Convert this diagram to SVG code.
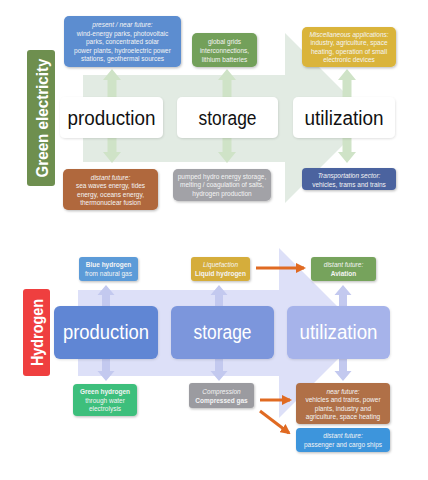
<svg xmlns="http://www.w3.org/2000/svg" width="428" height="480" viewBox="0 0 428 480">
<defs>
<filter id="sh" x="-10%" y="-10%" width="130%" height="140%"><feDropShadow dx="0.8" dy="1.2" stdDeviation="0.9" flood-color="#000" flood-opacity="0.25"/></filter>
<filter id="shl" x="-10%" y="-10%" width="130%" height="140%"><feDropShadow dx="0.5" dy="1" stdDeviation="1" flood-color="#000" flood-opacity="0.12"/></filter>
<marker id="oa" viewBox="0 0 10 10" refX="8" refY="5" markerWidth="3.4" markerHeight="3.4" orient="auto"><path d="M0,0 L10,5 L0,10 Z" fill="#e06a22"/></marker>
<style>
.s{font-family:"Liberation Sans",Arial,sans-serif;font-size:6.5px;fill:#f4f4f4;text-anchor:middle}
.i{font-style:italic}
.b{font-weight:bold}
.big{font-family:"Liberation Sans",Arial,sans-serif;font-size:20px;text-anchor:middle}
.lbl{font-family:"Liberation Sans",Arial,sans-serif;font-weight:bold;fill:#fff;text-anchor:middle}
.ga{fill:#cfe3c7}
.ha{fill:#c3c9ef}
.oc{stroke:#e06a22;stroke-width:3;fill:none;marker-end:url(#oa)}
</style>
</defs>
<rect width="428" height="480" fill="#fff"/>

<g id="backgrounds">
<polygon points="83,75 285,75 285,33 370,118 285,203 285,162 83,162" fill="#e2ebe3"/>
<polygon points="78,290 279,290 279,248 364,333 279,418 279,376 78,376" fill="#dde0f8"/>
</g>

<g id="connectors">
<!-- green electricity vertical arrows -->
<path class="ga" d="M107.5,97 V80 H103 L112,69 L121,80 H116.5 V97 Z"/>
<path class="ga" d="M107.5,138 V152 H103 L112,163 L121,152 H116.5 V138 Z"/>
<path class="ga" d="M222.5,97 V80 H218 L227,69 L236,80 H231.5 V97 Z"/>
<path class="ga" d="M222.5,138 V152 H218 L227,163 L236,152 H231.5 V138 Z"/>
<path class="ga" d="M342.5,97 V80 H338 L347,69 L356,80 H351.5 V97 Z"/>
<path class="ga" d="M342.5,138 V152 H338 L347,163 L356,152 H351.5 V138 Z"/>
<!-- hydrogen vertical arrows -->
<path class="ha" d="M102,306 V295 H97.5 L106,285 L114.5,295 H110 V306 Z"/>
<path class="ha" d="M102,359 V371 H97.5 L106,381 L114.5,371 H110 V359 Z"/>
<path class="ha" d="M215,306 V295 H210.5 L219,285 L227.5,295 H223 V306 Z"/>
<path class="ha" d="M215,359 V371 H210.5 L219,381 L227.5,371 H223 V359 Z"/>
<path class="ha" d="M339,306 V295 H334.5 L343,285 L351.5,295 H347 V306 Z"/>
<path class="ha" d="M339,359 V371 H334.5 L343,381 L351.5,371 H347 V359 Z"/>
<!-- orange arrows -->
<line class="oc" x1="256" y1="268" x2="304" y2="268"/>
<line class="oc" x1="260" y1="400" x2="290" y2="400"/>
<line class="oc" x1="260" y1="411" x2="289" y2="433"/>
</g>

<g id="label-green-electricity">
<rect x="27" y="50" width="28" height="136" rx="3" fill="#6e8f4f"/>
<text class="lbl" font-size="17" transform="translate(47.5,118) rotate(-90)" textLength="119" lengthAdjust="spacingAndGlyphs">Green electricity</text>
</g>

<g id="ge-production">
<rect x="60" y="97" width="103" height="41" rx="5" fill="#fff" filter="url(#shl)"/>
<text class="big" x="111.5" y="125" fill="#111" textLength="88" lengthAdjust="spacingAndGlyphs">production</text>
</g>
<g id="ge-storage">
<rect x="177" y="97" width="101" height="41" rx="5" fill="#fff" filter="url(#shl)"/>
<text class="big" x="227.5" y="125" fill="#111" textLength="58" lengthAdjust="spacingAndGlyphs">storage</text>
</g>
<g id="ge-utilization">
<rect x="293" y="97" width="102" height="41" rx="5" fill="#fff" filter="url(#shl)"/>
<text class="big" x="344" y="125" fill="#111" textLength="79" lengthAdjust="spacingAndGlyphs">utilization</text>
</g>

<g id="ge-prod-present">
<rect x="64" y="16" width="117" height="51" rx="5" fill="#5b8dd0" filter="url(#sh)"/>
<text class="s i" x="122.5" y="27">present / near future:</text>
<text class="s" x="122.5" y="35.5">wind-energy parks, photovoltaic</text>
<text class="s" x="122.5" y="44">parks, concentrated solar</text>
<text class="s" x="122.5" y="52.5">power plants, hydroelectric power</text>
<text class="s" x="122.5" y="61">stations, geothermal sources</text>
</g>
<g id="ge-storage-top">
<rect x="192" y="33" width="65" height="34" rx="5" fill="#73a05a" filter="url(#sh)"/>
<text class="s" x="224.5" y="44">global grids</text>
<text class="s" x="224.5" y="52.5">interconnections,</text>
<text class="s" x="224.5" y="61.5" font-size="7.5">lithium batteries</text>
</g>
<g id="ge-util-misc">
<rect x="302" y="27" width="94" height="40" rx="5" fill="#dab43b" filter="url(#sh)"/>
<text class="s i" x="349" y="36.5">Miscellaneous applications:</text>
<text class="s" x="349" y="45">industry, agriculture, space</text>
<text class="s" x="349" y="53.5">heating, operation of small</text>
<text class="s" x="349" y="62">electronic devices</text>
</g>
<g id="ge-prod-distant">
<rect x="63" y="169" width="95" height="41" rx="5" fill="#b0683d" filter="url(#sh)"/>
<text class="s i" x="110.5" y="179.5">distant future:</text>
<text class="s" x="110.5" y="188">sea waves energy, tides</text>
<text class="s" x="110.5" y="196.5">energy, oceans energy,</text>
<text class="s" x="110.5" y="205">thermonuclear fusion</text>
</g>
<g id="ge-storage-bottom">
<rect x="173" y="169" width="98" height="32" rx="5" fill="#a2a2a7" filter="url(#sh)"/>
<text class="s" x="222" y="178.5">pumped hydro energy storage,</text>
<text class="s" x="222" y="187.2">melting / coagulation of salts,</text>
<text class="s" x="222" y="196">hydrogen production</text>
</g>
<g id="ge-util-transport">
<rect x="302" y="168" width="94" height="22" rx="4" fill="#4b649f" filter="url(#sh)"/>
<text class="s i" x="349" y="178">Transportation sector:</text>
<text class="s" x="349" y="186.5">vehicles, trams and trains</text>
</g>

<g id="label-hydrogen">
<rect x="23" y="289" width="27" height="87" rx="3" fill="#ef3f3f"/>
<text class="lbl" font-size="16" transform="translate(42.5,332.5) rotate(-90)" textLength="67" lengthAdjust="spacingAndGlyphs">Hydrogen</text>
</g>

<g id="h-production">
<rect x="54" y="306" width="104" height="53" rx="6" fill="#6186d4" filter="url(#shl)"/>
<text class="big" x="106" y="339" fill="#fff" textLength="86" lengthAdjust="spacingAndGlyphs">production</text>
</g>
<g id="h-storage">
<rect x="171" y="306" width="103" height="53" rx="6" fill="#7b96dc" filter="url(#shl)"/>
<text class="big" x="222.5" y="339" fill="#fff" textLength="58" lengthAdjust="spacingAndGlyphs">storage</text>
</g>
<g id="h-utilization">
<rect x="287" y="306" width="103" height="53" rx="6" fill="#a6b3ea" filter="url(#shl)"/>
<text class="big" x="338.5" y="339" fill="#fff" textLength="78" lengthAdjust="spacingAndGlyphs">utilization</text>
</g>

<g id="h-blue">
<rect x="79" y="257" width="59" height="24" rx="3" fill="#5b9bd8" filter="url(#sh)"/>
<text class="s b" x="108.5" y="267">Blue hydrogen</text>
<text class="s" x="108.5" y="276">from natural gas</text>
</g>
<g id="h-liquid">
<rect x="191" y="257" width="59" height="24" rx="3" fill="#d5ad3a" filter="url(#sh)"/>
<text class="s i" x="220.5" y="267">Liquefaction</text>
<text class="s b" x="220.5" y="276">Liquid hydrogen</text>
</g>
<g id="h-aviation">
<rect x="311" y="257" width="65" height="24" rx="3" fill="#76a35b" filter="url(#sh)"/>
<text class="s i" x="343.5" y="267">distant future:</text>
<text class="s b" x="343.5" y="276">Aviation</text>
</g>
<g id="h-green">
<rect x="73" y="384" width="64" height="32" rx="4" fill="#3dbf7b" filter="url(#sh)"/>
<text class="s b" x="105" y="394">Green hydrogen</text>
<text class="s" x="105" y="402.5">through water</text>
<text class="s" x="105" y="411">electrolysis</text>
</g>
<g id="h-compressed">
<rect x="189" y="383" width="65" height="25" rx="3" fill="#9b9ba0" filter="url(#sh)"/>
<text class="s i" x="221.5" y="393.5">Compression</text>
<text class="s b" x="221.5" y="402.5">Compressed gas</text>
</g>
<g id="h-near">
<rect x="296" y="383" width="94" height="41" rx="4" fill="#b07046" filter="url(#sh)"/>
<text class="s i" x="343" y="393.5">near future:</text>
<text class="s" x="343" y="402">vehicles and trains, power</text>
<text class="s" x="343" y="410.5">plants, industry and</text>
<text class="s" x="343" y="419">agriculture, space heating</text>
</g>
<g id="h-ships">
<rect x="296" y="428" width="94" height="24" rx="4" fill="#3e95dc" filter="url(#sh)"/>
<text class="s i" x="343" y="438">distant future:</text>
<text class="s" x="343" y="447">passenger and cargo ships</text>
</g>
</svg>
